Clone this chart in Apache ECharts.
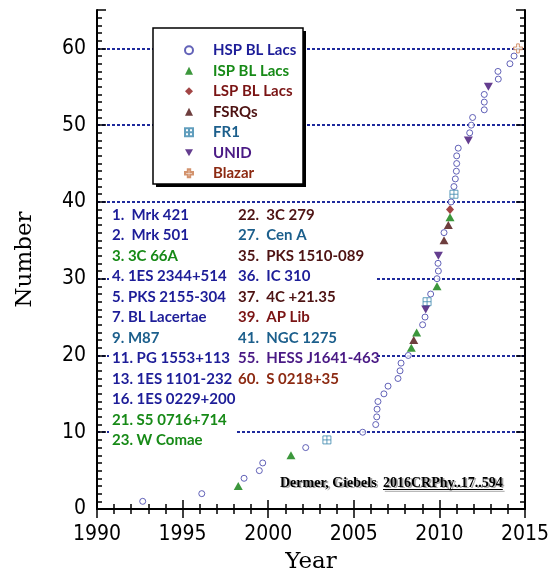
<!DOCTYPE html>
<html>
<head>
<meta charset="utf-8">
<script src="https://cdn.jsdelivr.net/npm/echarts@6/dist/echarts.min.js"></script>
<style>
  html, body { margin: 0; padding: 0; background: #fff; }
  #chart { width: 548px; height: 574px; }
</style>
</head>
<body>
<div id="chart"></div>
<script>
// Cumulative number of TeV-detected extragalactic sources versus discovery year,
// split by source class.

const hspYear = [1992.67, 1996.12, 1998.59, 1999.48, 1999.68, 2002.19, 2005.52,
  2006.28, 2006.34, 2006.36, 2006.41, 2006.76, 2007.00, 2007.58, 2007.70, 2007.76, 2008.18,
  2009.02, 2009.16, 2009.49, 2009.86, 2009.94, 2009.92, 2010.27, 2010.68,
  2010.85, 2010.93, 2010.99, 2011.01, 2011.01, 2011.10, 2011.77, 2011.86, 2011.94,
  2012.62, 2012.62, 2012.62, 2013.44, 2013.42, 2014.12, 2014.36];
const hspNumber = [1, 2, 4, 5, 6, 8, 10,
  11, 12, 13, 14, 15, 16, 17, 18, 19, 20,
  24, 25, 28, 30, 31, 32, 36, 40,
  42, 43, 44, 45, 46, 47, 49, 50, 51,
  52, 53, 54, 56, 57, 58, 59];

const ispYear = [1998.25, 2001.33, 2008.36, 2008.67, 2009.86, 2010.62];
const ispNumber = [3, 7, 21, 23, 29, 38];

const lspYear = [2010.62];
const lspNumber = [39];

const fsrqYear = [2008.50, 2010.27, 2010.52];
const fsrqNumber = [22, 35, 37];

const fr1Year = [2003.43, 2009.28, 2010.85];
const fr1Number = [9, 27, 41];

const unidYear = [2009.20, 2009.94, 2011.69, 2012.86];
const unidNumber = [26, 33, 48, 55];

const blazarYear = [2014.59];
const blazarNumber = [60];

const classNames = ['HSP BL Lacs', 'ISP BL Lacs', 'LSP BL Lacs', 'FSRQs', 'FR1', 'UNID', 'Blazar'];

// Annotated sources (sequence number and name)
const leftLabels = ['1.  Mrk 421', '2.  Mrk 501', '3. 3C 66A', '4. 1ES 2344+514',
  '5. PKS 2155-304', '7. BL Lacertae', '9. M87', '11. PG 1553+113',
  '13. 1ES 1101-232', '16. 1ES 0229+200', '21. S5 0716+714', '23. W Comae'];
const leftTone = ['HSP', 'HSP', 'ISP', 'HSP', 'HSP', 'HSP', 'FR1', 'HSP', 'HSP', 'HSP', 'ISP', 'ISP'];
const rightLabels = ['22.  3C 279', '27.  Cen A', '35.  PKS 1510-089', '36.  IC 310',
  '37.  4C +21.35', '39.  AP Lib', '41.  NGC 1275', '55.  HESS J1641-463', '60.  S 0218+35'];
const rightTone = ['FSRQ', 'FR1', 'FSRQ', 'HSP', 'FSRQ', 'LSP', 'FR1', 'UNID', 'Blazar'];

const xTickMin = 1990, xTickMax = 2015, xTickStep = 5;
const yTickMin = 0, yTickMax = 65, yTickStep = 10;

// ---- styling ----
const textTone = {
  HSP: '#1d1d98', ISP: '#178a17', LSP: '#7a1414', FSRQ: '#4d1212',
  FR1: '#1c5f8c', UNID: '#4a1a85', Blazar: '#8c2a12'
};
const labelFont = 'bold 15px Lato, "Open Sans", sans-serif';
const tickFont = '"Liberation Sans Narrow", "DejaVu Sans Condensed", "Liberation Sans", sans-serif';
const titleFont = '"DejaVu Serif", "Liberation Serif", serif';

const zip = (xs, ys) => xs.map((x, i) => [x, ys[i]]);

const squareCross = 'path://M0,0H10V10H0ZM5,0V10M0,5H10';
const openPlus = 'path://M3.5,0H6.5V3.5H10V6.5H6.5V10H3.5V6.5H0V3.5H3.5Z';
const downTriangle = 'path://M0,0H10L5,9Z';

const seriesDefs = [
  { name: classNames[0], data: zip(hspYear, hspNumber), symbol: 'circle', symbolSize: 6,
    itemStyle: { color: '#ffffff', borderColor: '#3c3ca6', borderWidth: 1 } },
  { name: classNames[1], data: zip(ispYear, ispNumber), symbol: 'triangle', symbolSize: [9, 8],
    itemStyle: { color: '#0b7d0b' } },
  { name: classNames[2], data: zip(lspYear, lspNumber), symbol: 'diamond', symbolSize: [8, 9],
    itemStyle: { color: '#8b1616' } },
  { name: classNames[3], data: zip(fsrqYear, fsrqNumber), symbol: 'triangle', symbolSize: [9, 8],
    itemStyle: { color: '#4a0e0e' } },
  { name: classNames[4], data: zip(fr1Year, fr1Number), symbol: squareCross, symbolSize: 8,
    itemStyle: { color: '#ffffff', borderColor: '#3a86ad', borderWidth: 1 } },
  { name: classNames[5], data: zip(unidYear, unidNumber), symbol: downTriangle, symbolSize: [9, 8],
    itemStyle: { color: '#3d0c73' } },
  { name: classNames[6], data: zip(blazarYear, blazarNumber), symbol: openPlus, symbolSize: 9,
    itemStyle: { color: '#ffffff', borderColor: '#c8784a', borderWidth: 1 } }
];

const legendTone = ['HSP', 'ISP', 'LSP', 'FSRQ', 'FR1', 'UNID', 'Blazar'];

// ---- overlay graphics: legend frame, annotation list, citation ----
const graphics = [];
graphics.push({ type: 'rect', z: 5, shape: { x: 156, y: 31, width: 150, height: 156 },
  style: { fill: '#000' } });
graphics.push({ type: 'rect', z: 5, shape: { x: 153, y: 28, width: 150, height: 156 },
  style: { fill: '#fff', stroke: '#000', lineWidth: 1.5 } });

graphics.push({ type: 'rect', z: 1, shape: { x: 109, y: 205, width: 126, height: 246 },
  style: { fill: '#fff' } });
graphics.push({ type: 'rect', z: 1, shape: { x: 234, y: 205, width: 142, height: 186 },
  style: { fill: '#fff' } });

const rowTop = 215, rowStep = 20.5;
leftLabels.forEach((t, i) => {
  graphics.push({ type: 'text', z: 3, x: 112, y: rowTop + i * rowStep,
    style: { text: t, fill: textTone[leftTone[i]], font: labelFont,
      align: 'left', verticalAlign: 'middle' } });
});
rightLabels.forEach((t, i) => {
  graphics.push({ type: 'text', z: 3, x: 238, y: rowTop + i * rowStep,
    style: { text: t, fill: textTone[rightTone[i]], font: labelFont,
      align: 'left', verticalAlign: 'middle' } });
});

// Citation with a soft drop shadow (a grey copy under the black text)
const citeFont = 'bold 14px "Liberation Serif", "Times New Roman", serif';
const bibcode = '2016CRPhy..17..594';
const measure = document.createElement('canvas').getContext('2d');
measure.font = citeFont;
const bibWidth = measure.measureText(bibcode).width;
const citeParts = [
  { text: 'Dermer, Giebels', x: 280 },
  { text: bibcode, x: 383 }
];
citeParts.forEach(p => {
  graphics.push({ type: 'text', z: 2, x: p.x + 1.8, y: 484.8,
    style: { text: p.text, fill: 'rgba(0,0,0,0.35)', font: citeFont, align: 'left',
      verticalAlign: 'middle', shadowColor: 'rgba(0,0,0,0.3)', shadowBlur: 2 } });
  graphics.push({ type: 'text', z: 3, x: p.x, y: 483,
    style: { text: p.text, fill: '#000', font: citeFont, align: 'left', verticalAlign: 'middle' } });
});
graphics.push({ type: 'line', z: 2, shape: { x1: 384.8, y1: 491.3, x2: 384.8 + bibWidth, y2: 491.3 },
  style: { stroke: 'rgba(0,0,0,0.35)', lineWidth: 1 } });
graphics.push({ type: 'line', z: 3, shape: { x1: 383, y1: 489.5, x2: 383 + bibWidth, y2: 489.5 },
  style: { stroke: '#000', lineWidth: 1 } });

// ---- axes ----
const frameLine = { show: true, lineStyle: { color: '#000', width: 2 } };
const majorTick = { show: true, inside: true, length: 9, lineStyle: { color: '#000', width: 1.5 } };
const minorTickX = { show: true, splitNumber: 5, length: 5, lineStyle: { color: '#000', width: 1.5 } };
const minorTickY = { show: true, splitNumber: 10, length: 5, lineStyle: { color: '#000', width: 1.5 } };
const plain = v => String(v);

const option = {
  animation: false,
  backgroundColor: '#fff',
  grid: { left: 97, right: 23, top: 10, bottom: 65, containLabel: false, outerBoundsMode: 'none' },
  xAxis: [
    { type: 'value', position: 'bottom', min: xTickMin, max: xTickMax, interval: xTickStep,
      axisLine: frameLine, axisTick: majorTick, minorTick: minorTickX,
      splitLine: { show: false },
      axisLabel: { color: '#000', fontFamily: tickFont, fontSize: 21, margin: 15, formatter: plain },
      name: 'Year', nameLocation: 'middle', nameGap: 42,
      nameTextStyle: { color: '#000', fontFamily: titleFont, fontSize: 23 } },
    { type: 'value', position: 'top', min: xTickMin, max: xTickMax, interval: xTickStep,
      axisLine: frameLine, axisTick: majorTick, minorTick: minorTickX,
      splitLine: { show: false }, axisLabel: { show: false } }
  ],
  yAxis: [
    { type: 'value', position: 'left', min: yTickMin, max: yTickMax, interval: yTickStep,
      axisLine: frameLine, axisTick: majorTick, minorTick: minorTickY,
      splitLine: { show: true, showMinLine: false, showMaxLine: false,
        lineStyle: { color: '#1f2a9c', width: 2, type: [3, 2] } },
      axisLabel: { color: '#000', fontFamily: tickFont, fontSize: 21, margin: 11,
        showMaxLabel: false, formatter: plain },
      name: 'Number', nameLocation: 'middle', nameGap: 60,
      nameTextStyle: { color: '#000', fontFamily: titleFont, fontSize: 23 } },
    { type: 'value', position: 'right', min: yTickMin, max: yTickMax, interval: yTickStep,
      axisLine: frameLine, axisTick: majorTick, minorTick: minorTickY,
      splitLine: { show: false }, axisLabel: { show: false } }
  ],
  legend: {
    orient: 'vertical', left: 179, top: 37, z: 6,
    itemWidth: 8, itemHeight: 8, itemGap: 4, selectedMode: false, symbolKeepAspect: true,
    textStyle: { fontFamily: 'Lato, "Open Sans", sans-serif', fontWeight: 'bold', fontSize: 15,
      lineHeight: 16.5, padding: [0, 0, 0, 15] },
    data: classNames.map((n, i) => ({ name: n, textStyle: { color: textTone[legendTone[i]] } }))
  },
  graphic: { elements: graphics },
  series: seriesDefs.map(s => Object.assign({ type: 'scatter', xAxisIndex: 0, yAxisIndex: 0, z: 4 }, s))
};

const chart = echarts.init(document.getElementById('chart'));
chart.setOption(option);
</script>
</body>
</html>
